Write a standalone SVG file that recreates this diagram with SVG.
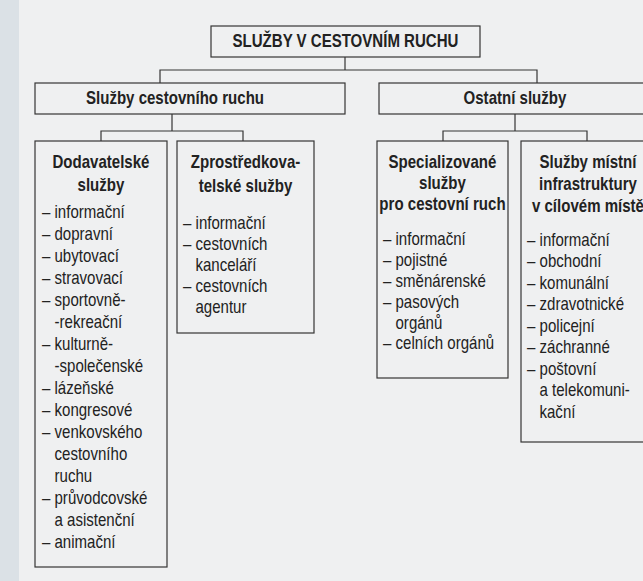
<svg xmlns="http://www.w3.org/2000/svg" width="643" height="581" viewBox="0 0 643 581">
<style>
.bg{fill:#eff0f1}
.box{fill:none;stroke:#353535;stroke-width:1.2}
.con{fill:none;stroke:#353535;stroke-width:1.2}
text{font-family:"Liberation Sans",Arial,sans-serif;fill:#222}
.h{font-weight:bold;font-size:17.5px;text-anchor:middle}
.t{font-weight:bold;font-size:17.5px;text-anchor:middle}
.l{font-size:17.5px}
</style>
<rect class="bg" x="0" y="0" width="643" height="581"/>
<rect x="0" y="0" width="19" height="581" fill="#dbe1e6"/>
<g id="connectors">
<path class="con" d="M345 57V70M160 83V70H537V83"/>
<path class="con" d="M172 114V131M101 141V131H243V141"/>
<path class="con" d="M515 114V131M443 141V131H587V141"/>
</g>
<g id="root">
<rect class="box" x="211" y="26" width="269" height="31"/>
<g transform="scale(0.86 1)"><text class="t" x="401.7" y="47.5">SLUŽBY V CESTOVNÍM RUCHU</text></g>
</g>
<g id="sluzby-cr">
<rect class="box" x="35" y="83" width="310" height="31"/>
<g transform="scale(0.86 1)"><text class="h" x="203.5" y="104.5">Služby cestovního ruchu</text></g>
</g>
<g id="ostatni">
<rect class="box" x="379" y="83" width="280" height="31"/>
<g transform="scale(0.86 1)"><text class="h" x="598.8" y="104.5">Ostatní služby</text></g>
</g>
<g id="dodavatelske">
<rect class="box" x="35" y="141" width="132" height="426"/>
<g transform="scale(0.86 1)">
<text class="h" x="117.4" y="168">Dodavatelské</text>
<text class="h" x="117.4" y="191">služby</text>
<text class="l" x="48.8" y="218">– informační</text>
<text class="l" x="48.8" y="240">– dopravní</text>
<text class="l" x="48.8" y="262">– ubytovací</text>
<text class="l" x="48.8" y="284">– stravovací</text>
<text class="l" x="48.8" y="306">– sportovně-</text>
<text class="l" x="63.4" y="328">-rekreační</text>
<text class="l" x="48.8" y="350">– kulturně-</text>
<text class="l" x="63.4" y="372">-společenské</text>
<text class="l" x="48.8" y="394">– lázeňské</text>
<text class="l" x="48.8" y="416">– kongresové</text>
<text class="l" x="48.8" y="438">– venkovského</text>
<text class="l" x="63.4" y="460">cestovního</text>
<text class="l" x="63.4" y="482">ruchu</text>
<text class="l" x="48.8" y="504">– průvodcovské</text>
<text class="l" x="63.4" y="526">a asistenční</text>
<text class="l" x="48.8" y="548">– animační</text>
</g>
</g>
<g id="zprostredkovatelske">
<rect class="box" x="177" y="141" width="137" height="192"/>
<g transform="scale(0.86 1)">
<text class="h" x="285.5" y="168">Zprostředkova-</text>
<text class="h" x="285.5" y="192">telské služby</text>
<text class="l" x="212.8" y="229.5">– informační</text>
<text class="l" x="212.8" y="250.5">– cestovních</text>
<text class="l" x="227.3" y="271.5">kanceláří</text>
<text class="l" x="212.8" y="292.5">– cestovních</text>
<text class="l" x="227.3" y="313.5">agentur</text>
</g>
</g>
<g id="specializovane">
<rect class="box" x="377" y="141" width="131" height="237"/>
<g transform="scale(0.86 1)">
<text class="h" x="514.5" y="168.5">Specializované</text>
<text class="h" x="514.5" y="189.5">služby</text>
<text class="h" x="514.5" y="210.5">pro cestovní ruch</text>
<text class="l" x="445.3" y="245.5">– informační</text>
<text class="l" x="445.3" y="266.3">– pojistné</text>
<text class="l" x="445.3" y="287.1">– směnárenské</text>
<text class="l" x="445.3" y="307.9">– pasových</text>
<text class="l" x="459.9" y="328.7">orgánů</text>
<text class="l" x="445.3" y="349.5">– celních orgánů</text>
</g>
</g>
<g id="mistni">
<rect class="box" x="521" y="141" width="135" height="301"/>
<g transform="scale(0.86 1)">
<text class="h" x="683.7" y="168.5">Služby místní</text>
<text class="h" x="683.7" y="190.5">infrastruktury</text>
<text class="h" x="683.7" y="212.5">v cílovém místě</text>
<text class="l" x="612.8" y="246">– informační</text>
<text class="l" x="612.8" y="267.5">– obchodní</text>
<text class="l" x="612.8" y="289">– komunální</text>
<text class="l" x="612.8" y="310.5">– zdravotnické</text>
<text class="l" x="612.8" y="332">– policejní</text>
<text class="l" x="612.8" y="353.5">– záchranné</text>
<text class="l" x="612.8" y="375">– poštovní</text>
<text class="l" x="627.3" y="396.5">a telekomuni-</text>
<text class="l" x="627.3" y="418">kační</text>
</g>
</g>
</svg>
